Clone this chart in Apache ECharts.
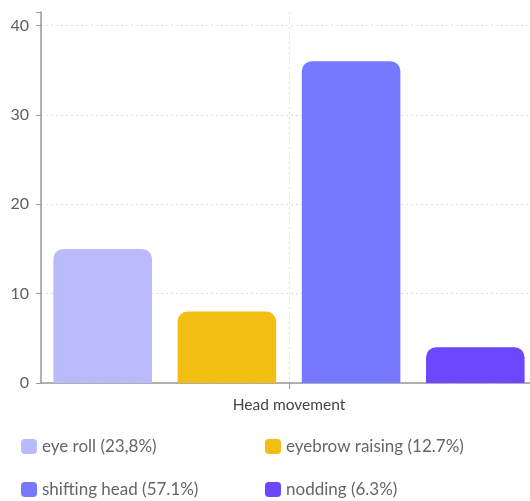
<!DOCTYPE html>
<html>
<head>
<meta charset="utf-8">
<script src="https://cdn.jsdelivr.net/npm/echarts@6/dist/echarts.min.js"></script>
<style>
  html, body { margin: 0; padding: 0; background: #fff; }
  #chart { width: 530px; height: 501px; }
</style>
</head>
<body>
<div id="chart"></div>
<script>
// Head movement counts by type
const categories = ['Head movement'];
const seriesNames = ['eye roll (23,8%)', 'eyebrow raising (12.7%)', 'shifting head (57.1%)', 'nodding (6.3%)'];
const seriesValues = [15, 8, 36, 4];
const seriesColors = ['#babbfc', '#f3be12', '#7679fe', '#6b47fe'];
const yTicks = [0, 10, 20, 30, 40];

const chart = echarts.init(document.getElementById('chart'), null, { renderer: 'canvas' });

const series = seriesNames.map((name, i) => ({
  name: name,
  type: 'bar',
  data: [seriesValues[i]],
  barGap: '26%',
  barCategoryGap: '5%',
  itemStyle: { color: seriesColors[i], borderRadius: [10, 10, 0, 0] }
}));

const legendBase = {
  orient: 'vertical',
  top: 438,
  height: 100,
  padding: 0,
  itemWidth: 16,
  itemHeight: 15,
  itemGap: 26,
  icon: 'roundRect',
  textStyle: { color: '#666', fontSize: 17, fontFamily: 'Lato' },
  selectedMode: false
};

chart.setOption({
  animation: false,
  textStyle: { fontFamily: 'Lato' },
  grid: {
    left: 41, width: 496, top: 12, bottom: 118,
    containLabel: false, outerBoundsMode: 'none'
  },
  xAxis: {
    type: 'category',
    data: categories,
    axisLine: { lineStyle: { color: '#999', width: 1.5 } },
    axisTick: { show: true, alignWithLabel: true, length: 6, lineStyle: { color: '#999' } },
    axisLabel: { color: '#444', fontSize: 15.5, margin: 14, fontFamily: 'Lato' },
    splitLine: { show: true, alignWithLabel: true, lineStyle: { color: '#ddd', type: [2, 3] } }
  },
  yAxis: {
    type: 'value',
    min: 0,
    max: 41.5,
    interval: 10,
    axisLine: { show: true, lineStyle: { color: '#999', width: 1.5 } },
    axisTick: { show: true, length: 5, lineStyle: { color: '#999' } },
    axisLabel: {
      color: '#5f5f5f', fontSize: 16, margin: 12, fontFamily: 'Lato',
      formatter: v => (yTicks.indexOf(v) >= 0 ? String(v) : '')
    },
    splitLine: {
      show: true,
      lineStyle: { color: ['#ddd', '#ddd', '#ddd', '#ddd', '#ddd', 'rgba(0,0,0,0)'], type: [2, 3] }
    }
  },
  legend: [
    Object.assign({}, legendBase, { data: [seriesNames[0], seriesNames[2]], left: 21 }),
    Object.assign({}, legendBase, { data: [seriesNames[1], seriesNames[3]], left: 265 })
  ],
  series: series
});
</script>
</body>
</html>
